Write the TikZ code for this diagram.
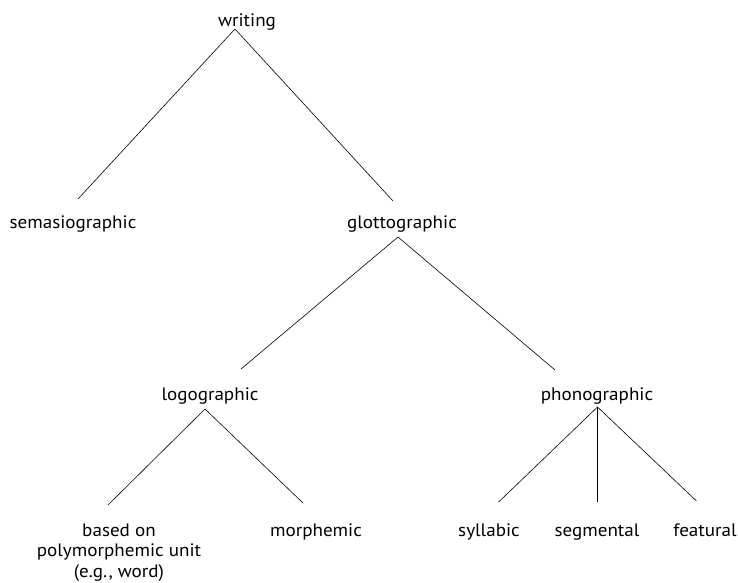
\documentclass[tikz,border=0pt]{standalone}
\usepackage{fontspec}
\setmainfont[FakeStretch=1.06]{PT Sans}
\begin{document}
\begin{tikzpicture}[x=1pt,y=-1pt,
  lbl/.style={anchor=base,inner sep=0pt,font=\fontsize{18}{20.5}\selectfont,align=center},
  edge/.style={draw=black,line width=0.6pt}]
\useasboundingbox (0,0) rectangle (738,582);
% labels
\node[lbl] (writing) at (247,26) {writing};
\node[lbl] (sema) at (73,228) {semasiographic};
\node[lbl] (glotto) at (402,228) {glottographic};
\node[lbl] (logo) at (210,400) {logographic};
\node[lbl] (phono) at (597,400) {phonographic};
\node[lbl] (based) at (119,577) {based on\\polymorphemic unit\\(e.g., word)};
\node[lbl] (morph) at (316,536) {morphemic};
\node[lbl] (syll) at (489,536) {syllabic};
\node[lbl] (segm) at (597,536) {segmental};
\node[lbl] (feat) at (705,536) {featural};
% attachment points
\coordinate (wA) at (235,29);
\coordinate (semaT) at (78,199);
\coordinate (glottoT) at (393,201);
\coordinate (glottoA) at (398,237);
\coordinate (logoT) at (241,369);
\coordinate (phonoT) at (555,370);
\coordinate (logoA) at (205,409);
\coordinate (basedT) at (108,505);
\coordinate (morphT) at (303,503);
\coordinate (phonoA) at (597.5,407);
\coordinate (syllT) at (498.6,502);
\coordinate (segmT) at (597.5,502);
\coordinate (featT) at (696.5,501);
% edges
\draw[edge] (semaT) -- (wA) -- (glottoT);
\draw[edge] (logoT) -- (glottoA) -- (phonoT);
\draw[edge] (basedT) -- (logoA) -- (morphT);
\draw[edge] (syllT) -- (phonoA) -- (featT);
\draw[edge] (phonoA) -- (segmT);
\end{tikzpicture}
\end{document}
